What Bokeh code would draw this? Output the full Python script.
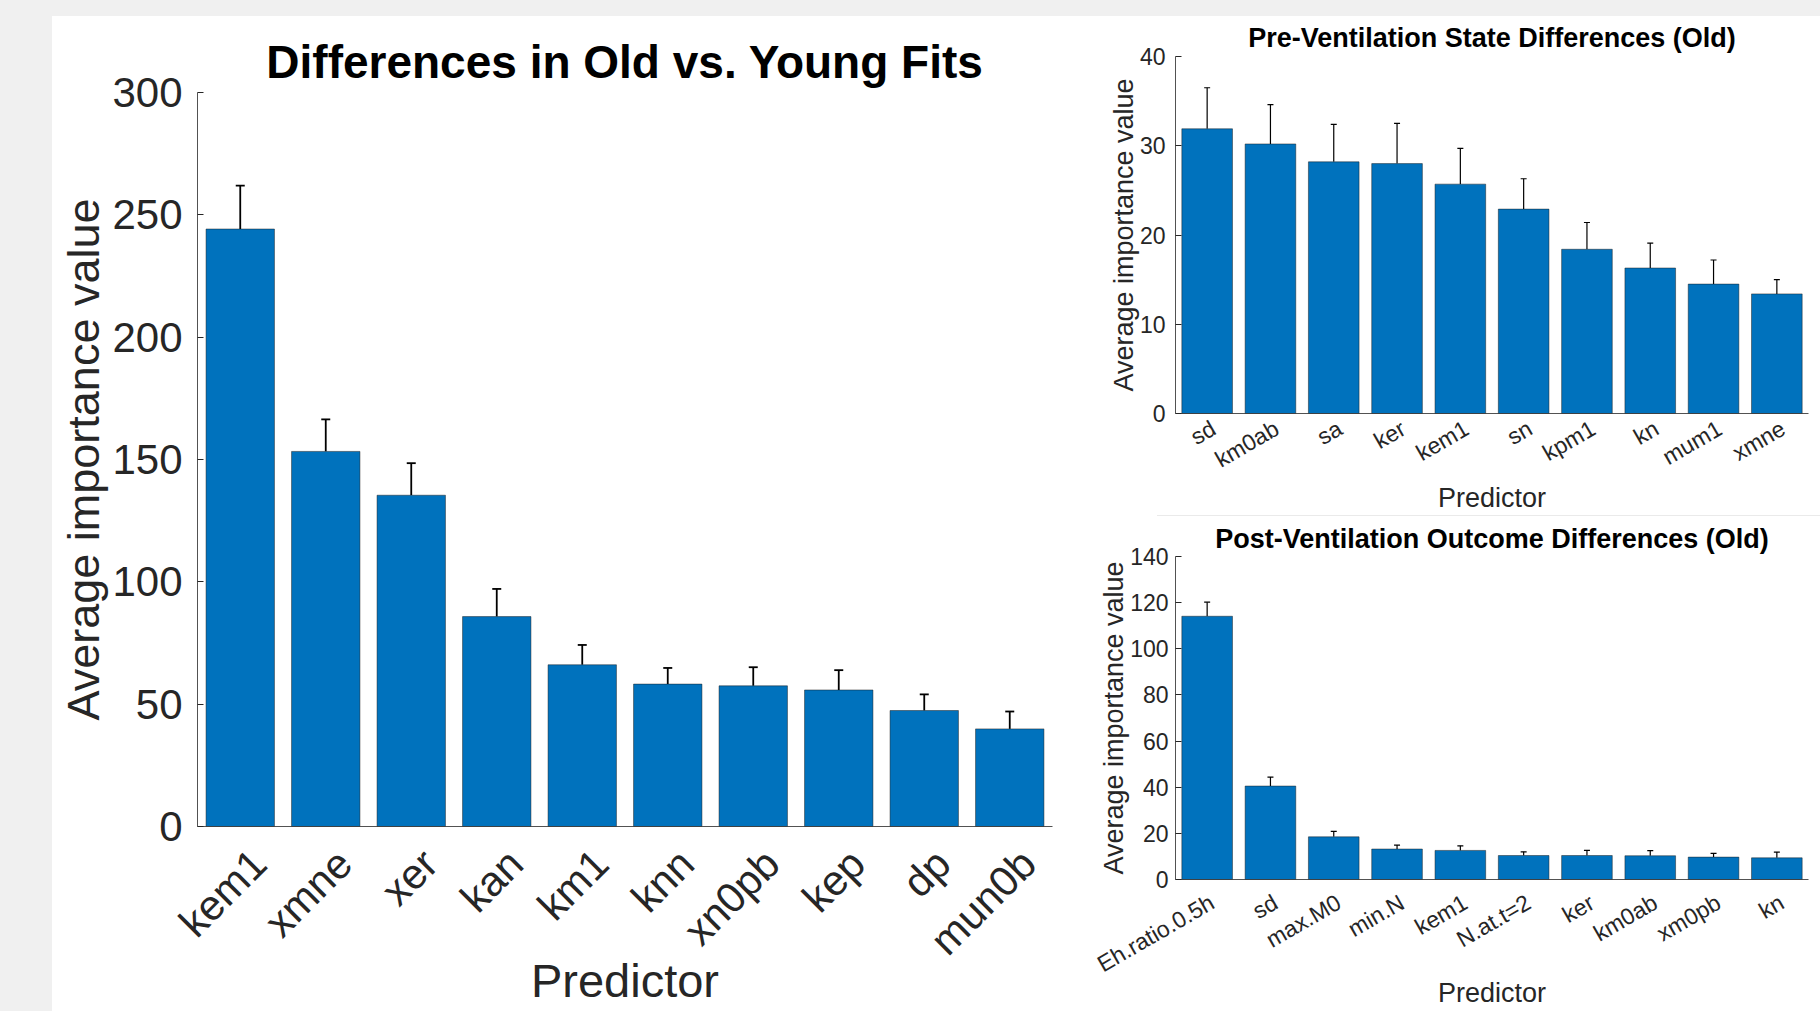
import math
from bokeh.plotting import figure
from bokeh.models import (ColumnDataSource, Range1d, Whisker, TeeHead, FixedTicker, Div)
from bokeh.layouts import row, column
from bokeh.embed import file_html
from bokeh.resources import INLINE

# ---------------- data ----------------
main_predictors = ["kem1", "xmne", "xer", "kan", "km1", "knn", "xn0pb", "kep", "dp", "mun0b"]
main_values = [244.2, 153.3, 135.4, 85.8, 66.1, 58.2, 57.5, 55.8, 47.4, 39.9]
main_errors = [17.7, 13.1, 13.1, 11.3, 8.1, 6.6, 7.6, 8.1, 6.6, 7.1]

pre_predictors = ["sd", "km0ab", "sa", "ker", "kem1", "sn", "kpm1", "kn", "mum1", "xmne"]
pre_values = [31.9, 30.2, 28.2, 28.0, 25.7, 22.9, 18.4, 16.3, 14.5, 13.4]
pre_errors = [4.6, 4.4, 4.2, 4.5, 4.0, 3.4, 3.0, 2.8, 2.7, 1.6]

post_predictors = ["Eh.ratio.0.5h", "sd", "max.M0", "min.N", "kem1", "N.at.t=2", "ker", "km0ab", "xm0pb", "kn"]
post_values = [114.1, 40.5, 18.5, 13.2, 12.6, 10.4, 10.4, 10.3, 9.7, 9.4]
post_errors = [6.1, 3.9, 2.4, 1.7, 2.0, 1.6, 2.2, 2.2, 1.6, 2.5]

main_ticks = [0, 50, 100, 150, 200, 250, 300]
pre_ticks = [0, 10, 20, 30, 40]
post_ticks = [0, 20, 40, 60, 80, 100, 120, 140]

FONT = "Liberation Sans"
BAR = "#0072BD"
GRAY = "#f0f0f0"
TXT = "#262626"


def panel(title, cats, vals, errs, ticks, width, height, borders, tfs, xlfs, ylfs, tkfs,
          angle, shift, cap, ewidth, xl_standoff, xt_standoff, yl_standoff, yt_standoff,
          title_standoff):
    n = len(cats)
    pos = [i + 0.5 for i in range(n)]          # slot centre of each category
    p = figure(x_range=Range1d(0, n), y_range=Range1d(ticks[0], ticks[-1]),
               width=width, height=height, output_backend="svg", toolbar_location=None,
               min_border_left=borders[0], min_border_right=borders[1],
               min_border_top=borders[2], min_border_bottom=borders[3])
    src = ColumnDataSource(dict(x=pos, name=cats, v=vals,
                                top=[a + b for a, b in zip(vals, errs)]))
    p.vbar(x="x", top="v", bottom=0, width=0.8, source=src, fill_color=BAR,
           line_color="#1a1a1a", line_width=0.6, line_alpha=0.8)
    w = Whisker(base="x", upper="top", lower="v", source=src, dimension="height",
                line_color="black", line_width=ewidth,
                upper_head=TeeHead(size=cap, line_color="black", line_width=ewidth),
                lower_head=None)
    p.add_layout(w)

    p.title.text = title
    p.title.align = "center"
    p.title.text_font = FONT
    p.title.text_font_size = f"{tfs}px"
    p.title.text_font_style = "bold"
    p.title.text_color = "black"
    p.title.standoff = title_standoff

    p.xgrid.grid_line_color = None
    p.ygrid.grid_line_color = None
    p.outline_line_color = None
    p.background_fill_color = "white"
    p.border_fill_color = "white"

    # x axis: category names, anchored MATLAB-like near their top-right corner
    lab_pos = [round(x + shift, 3) for x in pos]
    xa = p.xaxis[0]
    xa.ticker = FixedTicker(ticks=lab_pos)
    xa.major_label_overrides = {k: name for k, name in zip(lab_pos, cats)}
    xa.major_label_orientation = angle
    xa.axis_line_color = TXT
    xa.axis_line_width = 0.8
    xa.major_tick_line_color = None
    xa.minor_tick_line_color = None
    xa.major_tick_in = 0
    xa.major_tick_out = 0
    xa.major_label_text_font = FONT
    xa.major_label_text_color = TXT
    xa.major_label_text_font_size = f"{tkfs}px"
    xa.major_label_standoff = xt_standoff
    xa.axis_label = "Predictor"
    xa.axis_label_text_font = FONT
    xa.axis_label_text_font_style = "normal"
    xa.axis_label_text_color = TXT
    xa.axis_label_text_font_size = f"{xlfs}px"
    xa.axis_label_standoff = xl_standoff

    ya = p.yaxis[0]
    ya.axis_line_color = TXT
    ya.axis_line_width = 0.8
    ya.major_label_text_font = FONT
    ya.major_label_text_color = TXT
    ya.major_label_text_font_size = f"{tkfs}px"
    ya.axis_label = "Average importance value"
    ya.axis_label_text_font = FONT
    ya.axis_label_text_font_style = "normal"
    ya.axis_label_text_color = TXT
    ya.axis_label_text_font_size = f"{ylfs}px"
    ya.minor_tick_line_color = None
    ya.ticker = FixedTicker(ticks=ticks)
    ya.major_tick_in = 6
    ya.major_tick_out = 0
    ya.major_tick_line_color = TXT
    ya.major_label_standoff = yt_standoff
    ya.axis_label_standoff = yl_standoff
    return p


left = panel("Differences in Old vs. Young Fits", main_predictors, main_values, main_errors,
             main_ticks, 1018, 995, (145, 18, 76, 185), 46, 47, 45, 42,
             math.pi / 4, 0.22, 9, 1.8, -30, 30, 0, 15, 10)

top = panel("Pre-Ventilation State Differences (Old)", pre_predictors, pre_values, pre_errors,
            pre_ticks, 750, 499, (105, 12, 40, 101), 27, 27, 27, 23,
            math.pi / 6, 0.1, 6, 1.2, -4, 13, -2, 10, 7)

bottom = panel("Post-Ventilation Outcome Differences (Old)", post_predictors, post_values, post_errors,
               post_ticks, 750, 495, (102, 12, 40, 130), 27, 27, 27, 23,
               math.pi / 6, 0.08, 6, 1.2, -13, 21, -2, 7, 5)

sep = Div(width=750, height=1, margin=(0, 0, 0, 0),
          styles={"background": "linear-gradient(to right, #ffffff 87px, #eaeaea 87px)"})
top_strip = Div(width=1820, height=16, margin=(0, 0, 0, 0), styles={"background-color": GRAY})
left_strip = Div(width=52, height=995, margin=(0, 0, 0, 0), styles={"background-color": GRAY})

layout = column(top_strip, row(left_strip, left, column(top, sep, bottom)))

open("out.html", "w").write(file_html(layout, INLINE))
